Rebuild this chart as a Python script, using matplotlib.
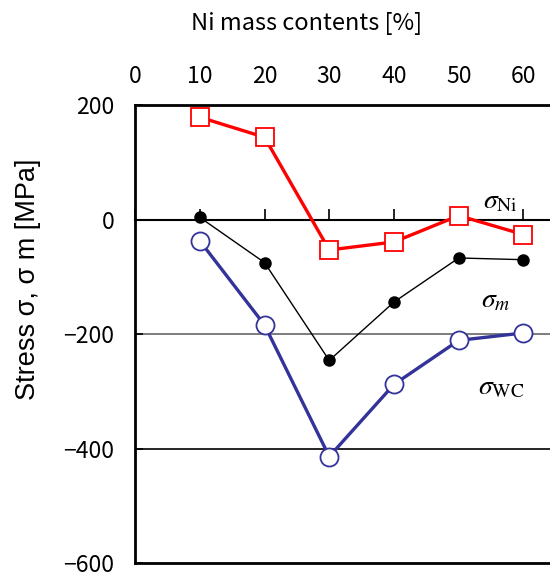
import matplotlib
matplotlib.use("Agg")
import matplotlib.pyplot as plt

ni_content = [10, 20, 30, 40, 50, 60]
sigma_ni = [179, 144, -53, -39, 7, -26]
sigma_m = [4, -75, -246, -144, -67, -70]
sigma_wc = [-37, -184, -414, -288, -211, -198]
xticks = [0, 10, 20, 30, 40, 50, 60]
yticks = [200, 0, -200, -400, -600]

plt.rcParams['font.family'] = ['Noto Sans CJK JP', 'DejaVu Sans']
plt.rcParams['mathtext.fontset'] = 'stix'
plt.rcParams['axes.unicode_minus'] = True

fig = plt.figure(figsize=(5.5, 5.78), dpi=100)
ax = fig.add_axes([0.2455, 0.026, 0.7545, 0.792])
ax.set_xlim(0, 64.1)
ax.set_ylim(-600, 200)

# grid lines
ax.axhline(-200, color='#666666', lw=1.2, zorder=1)
ax.axhline(-400, color='black', lw=1.2, zorder=1)
ax.axhline(-600, color='black', lw=2.0, zorder=3, clip_on=False)

ax.spines['right'].set_visible(False)
ax.spines['top'].set_linewidth(2.0)
ax.spines['left'].set_linewidth(2.0)
ax.spines['bottom'].set_position(('data', 0))
ax.spines['bottom'].set_linewidth(1.5)

ax.set_xticks(xticks)
ax.set_yticks(yticks)
ax.tick_params(axis='x', direction='in', length=8, width=1.2, top=False, bottom=True,
               labeltop=True, labelbottom=False, labelsize=16.5, pad=12.5)
ax.tick_params(axis='y', direction='in', length=6, width=1.2, labelsize=16.5, pad=15)
ax.set_yticklabels(['200', '0', '\u2212200', '\u2212400', '\u2212600'])

ax.xaxis.set_label_position('top')
ax.set_xlabel('Ni mass contents [%]', fontsize=17)
ax.xaxis.set_label_coords(0.414, 1.165)
ax.set_ylabel('Stress \u03c3, \u03c3 m [MPa]', fontsize=19.5, family=['Liberation Sans', 'DejaVu Sans'])
ax.yaxis.set_label_coords(-0.226, 0.62)

ax.plot(ni_content, sigma_ni, color='#ff0000', lw=2.4, marker='s', ms=13,
        mfc='white', mec='#ff0000', mew=1.3, zorder=5, clip_on=False)
ax.plot(ni_content, sigma_m, color='black', lw=1.0, marker='o', ms=8,
        mfc='black', mec='black', zorder=4, clip_on=False)
ax.plot(ni_content, sigma_wc, color='#333399', lw=2.4, marker='o', ms=13,
        mfc='white', mec='#333399', mew=1.3, zorder=5, clip_on=False)

ax.text(56.5, 33, r'$\sigma_{\rm Ni}$', fontsize=20, ha='center', va='center')
ax.text(55.8, -140, r'$\sigma_{m}$', fontsize=20, ha='center', va='center')
ax.text(56.5, -291, r'$\sigma_{\rm WC}$', fontsize=20, ha='center', va='center')

fig.savefig('out.png', dpi=100)
